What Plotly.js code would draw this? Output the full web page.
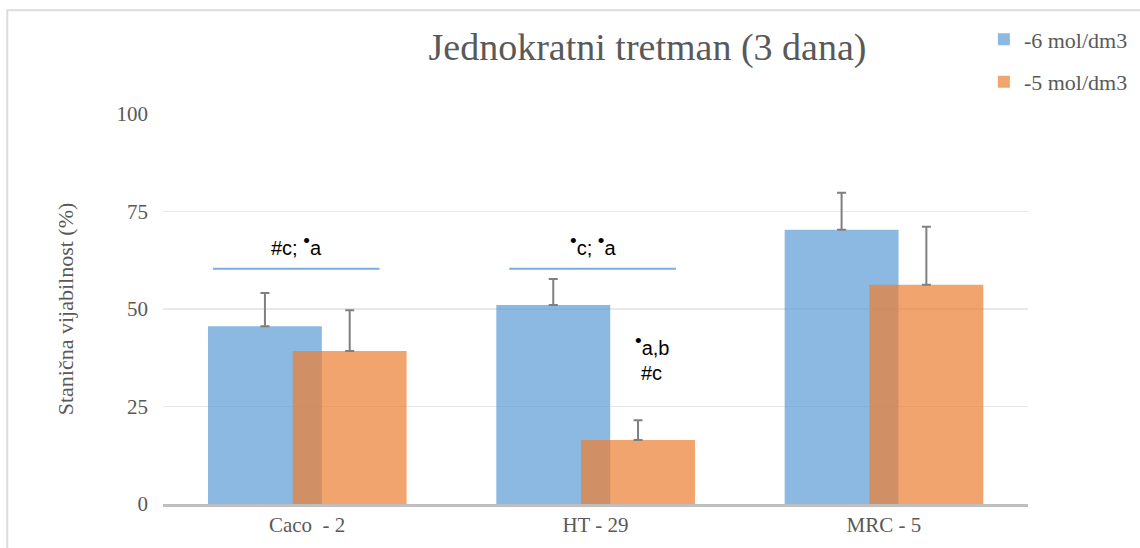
<!DOCTYPE html>
<html><head><meta charset="utf-8">
<script src="https://cdn.plot.ly/plotly-3.0.1.min.js"></script>
<style>body{margin:0;background:#fff}#chart{width:1140px;height:548px}</style>
</head><body><div id="chart"></div>
<script>
const categories = ["Caco  - 2", "HT - 29", "MRC - 5"];
const seriesNames = ["-6 mol/dm3", "-5 mol/dm3"];
const valuesA = [45.6, 51.0, 70.3];
const errorsA = [8.5, 6.7, 9.5];
const valuesB = [39.2, 16.4, 56.2];
const errorsB = [10.5, 5.1, 14.9];
const dot = "<sup><span style='font-size:19px'>•</span></sup>";
const bracketLabels = ["#c; " + dot + "a", dot + "c; " + dot + "a"];
const bracketLevel = 60.3;
const bracketLabelLevel = 66.5;
const extraLabels = [dot + "a,b", "#c"];
const extraLabelLevels = [40.8, 33.6];

const serif = "Liberation Serif, Times New Roman, serif";
const sans = "Liberation Sans, Arial, sans-serif";
const idx = categories.map((c, i) => i);
const barW = 0.395;

const errStyle = {type: 'data', symmetric: false, color: '#7f7f7f', thickness: 2, width: 4.5};
const traces = [
  {type: 'bar', name: seriesNames[0], x: idx, y: valuesA, width: barW, offset: -0.344,
   marker: {color: 'rgba(91,155,213,0.7)'}, legendgroup: 'a',
   error_y: Object.assign({array: errorsA, arrayminus: errorsA.map(() => 0)}, errStyle)},
  {type: 'bar', name: seriesNames[1], x: idx, y: valuesB, width: barW, offset: -0.05,
   marker: {color: 'rgba(237,125,49,0.7)'}, legendgroup: 'b',
   error_y: Object.assign({array: errorsB, arrayminus: errorsB.map(() => 0)}, errStyle)}
];

const bracketSpans = [[-0.327, 0.251], [0.701, 1.279]];
const shapes = bracketSpans.map(s => ({type: 'line', xref: 'x', yref: 'y', x0: s[0], x1: s[1],
  y0: bracketLevel, y1: bracketLevel, line: {color: '#7aaee0', width: 2}}));
// outer chart border
shapes.push({type: 'rect', xref: 'paper', yref: 'paper', x0: -0.18, x1: 1.25, y0: -0.3, y1: 1.266,
  line: {color: '#dcdcdc', width: 2}, fillcolor: 'rgba(0,0,0,0)', layer: 'below'});

const annFont = {family: sans, size: 20, color: '#000'};
const annotations = bracketSpans.map((s, i) => ({x: (s[0] + s[1]) / 2, y: bracketLabelLevel,
  xref: 'x', yref: 'y', text: bracketLabels[i], showarrow: false, font: annFont}));
extraLabels.forEach((t, i) => annotations.push({x: 1.195, y: extraLabelLevels[i], xref: 'x', yref: 'y',
  text: t, showarrow: false, font: annFont}));

const layout = {
  width: 1140, height: 548,
  margin: {l: 163, r: 112, t: 114, b: 44, autoexpand: false},
  paper_bgcolor: '#fff', plot_bgcolor: '#fff',
  barmode: 'overlay',
  title: {text: 'Jednokratni tretman (3 dana)', x: 0.568, xref: 'container', y: 0.914, yanchor: 'middle',
    font: {family: serif, size: 38, color: '#595959'}},
  xaxis: {range: [-0.5, 2.5], tickvals: idx, ticktext: categories, showgrid: false,
    showline: true, linecolor: '#bfbfbf', linewidth: 2.5, ticks: '', zeroline: false,
    tickfont: {family: serif, size: 21, color: '#595959'}},
  yaxis: {range: [0, 100], tickvals: [0, 25, 50, 75, 100], showgrid: true, gridcolor: '#e8e8e8',
    gridwidth: 1.5, zeroline: false, showline: false, ticks: '', ticklabelstandoff: 14,
    tickfont: {family: serif, size: 21, color: '#595959'},
    title: {text: 'Stanična vijabilnost (%)', standoff: 36, font: {family: serif, size: 22, color: '#595959'}}},
  legend: {x: 0.949, xanchor: 'left', y: 1.245, yanchor: 'top', traceorder: 'grouped', tracegroupgap: 11,
    font: {family: serif, size: 22, color: '#595959'}, itemwidth: 30, bgcolor: 'rgba(0,0,0,0)'},
  shapes: shapes, annotations: annotations, showlegend: true
};
Plotly.newPlot('chart', traces, layout, {displayModeBar: false, staticPlot: true});
</script></body></html>
